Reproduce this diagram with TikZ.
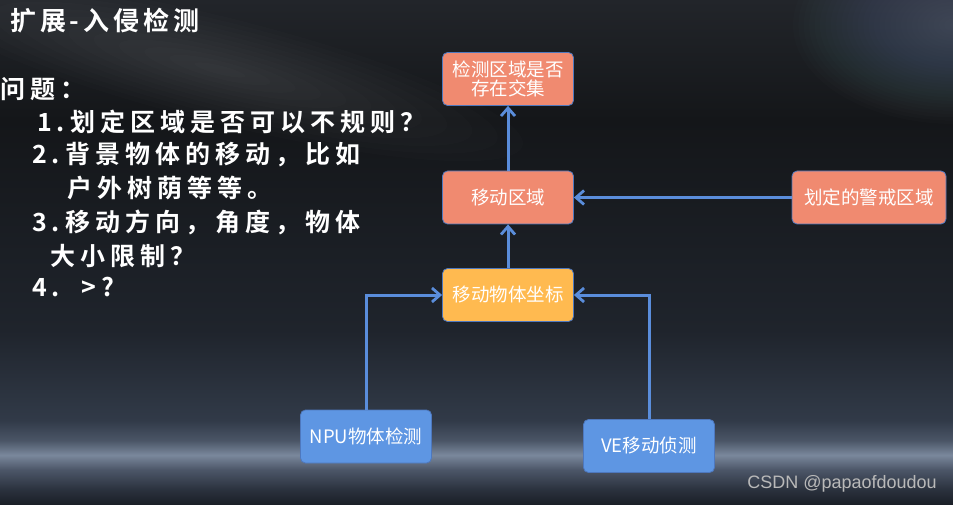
\documentclass[tikz,border=0pt]{standalone}
\usepackage{fontspec}
\usepackage{tikz}
\usetikzlibrary{arrows.meta,positioning}
\newfontfamily\cjk{Noto Sans CJK SC}
\newfontfamily\cjkt{Noto Sans CJK SC Bold}[LetterSpace=15]
\newfontfamily\cjkq{Noto Sans CJK SC Bold}[LetterSpace=20]
\newfontfamily\latin{Liberation Sans}
\definecolor{bgA}{HTML}{22252A}
\definecolor{bgB}{HTML}{141619}
\definecolor{bgC}{HTML}{1F242C}
\definecolor{bgD}{HTML}{313A48}
\definecolor{bgE}{HTML}{4A5566}
\definecolor{bgF}{HTML}{7A889C}
\definecolor{bgG}{HTML}{4C5668}
\definecolor{bgH}{HTML}{2A313D}
\definecolor{bgI}{HTML}{1A1E26}
\definecolor{glow}{HTML}{9AAAC4}
\definecolor{salmon}{HTML}{F08A70}
\definecolor{amber}{HTML}{FFBA50}
\definecolor{skyblue}{HTML}{5E96E3}
\definecolor{edgeblue}{HTML}{4E78BE}
\definecolor{arrblue}{HTML}{5A8DDB}
\pgfdeclareverticalshading{stage}{100bp}{color(0bp)=(bgI); color(25bp)=(bgI);
  color(26.5bp)=(bgH); color(28.5bp)=(bgG); color(29.95bp)=(bgF);
  color(31.4bp)=(bgE); color(33.4bp)=(bgD); color(42.3bp)=(bgC);
  color(63.1bp)=(bgB); color(75bp)=(bgA); color(100bp)=(bgA)}

\begin{document}
\begin{tikzpicture}[
  x=1pt, y=-1pt,
  box/.style={draw=edgeblue, line width=0.8pt, rounded corners=5pt,
    minimum width=131pt, minimum height=53pt, text=white,
    font=\cjk\fontsize{18.5}{22}\selectfont, align=center, inner sep=2pt},
  zone/.style={box, fill=salmon},
  coord/.style={box, fill=amber},
  sensor/.style={box, fill=skyblue},
  arr/.style={-{Straight Barb[length=8pt,width=14pt,line width=2.8pt]},
    draw=arrblue, line width=3pt},
  ques/.style={anchor=west, inner sep=0pt, text=white,
    font=\cjkq\fontsize{25}{30}\selectfont}
]
% background
\useasboundingbox (0,0) rectangle (953,505);
\shade[shading=stage] (0,0) rectangle (953,505);
\foreach \r in {6,12,...,180}
  \fill[glow, opacity=0.014] (955,25) ellipse ({\r*0.9} and {\r*0.55});
\foreach \r in {20,40,...,240}
  \fill[white, opacity=0.01, rotate around={-14:(220,70)}] (220,70) ellipse ({\r*1.3} and {\r*0.22});

% questions
\node[ques, font=\cjkt\fontsize{26}{30}\selectfont] (title) at (10,21) {扩展-入侵检测};
\node[ques] (q0) at (0,89) {问题：};
\node[ques] (q1) at (37,122) {1.划定区域是否可以不规则？};
\node[ques] (q2) at (32,155) {2.背景物体的移动，比如};
\node[ques] (q3) at (67,188) {户外树荫等等。};
\node[ques] (q4) at (32,222) {3.移动方向，角度，物体};
\node[ques] (q5) at (50,256) {大小限制？};
\node[ques] (q6) at (32,287) {4.\ \ >?};

% flow
\node[zone] (cross) at (508,79) {检测区域是否\\[-3pt]存在交集};
\node[zone] (move) at (508,197.5) {移动区域};
\node[zone, minimum width=154pt] (guard) at (869,197.5) {划定的警戒区域};
\node[coord] (obj) at (508,295) {移动物体坐标};
\node[sensor] (npu) at (366,436.5) {NPU物体检测};
\node[sensor] (ve) at (649,446) {VE移动侦测};

\draw[arr] (move) -- (cross);
\draw[arr] (obj) -- (move);
\draw[arr] (guard) -- (move);
\draw[arr] (npu.north) |- (obj.west);
\draw[arr] (ve.north) |- (obj.east);

\node[anchor=east, inner sep=0pt, text=gray!55!white,
  font=\latin\fontsize{18}{20}\selectfont] (mark) at (937,484) {CSDN @papaofdoudou};
\end{tikzpicture}
\end{document}
